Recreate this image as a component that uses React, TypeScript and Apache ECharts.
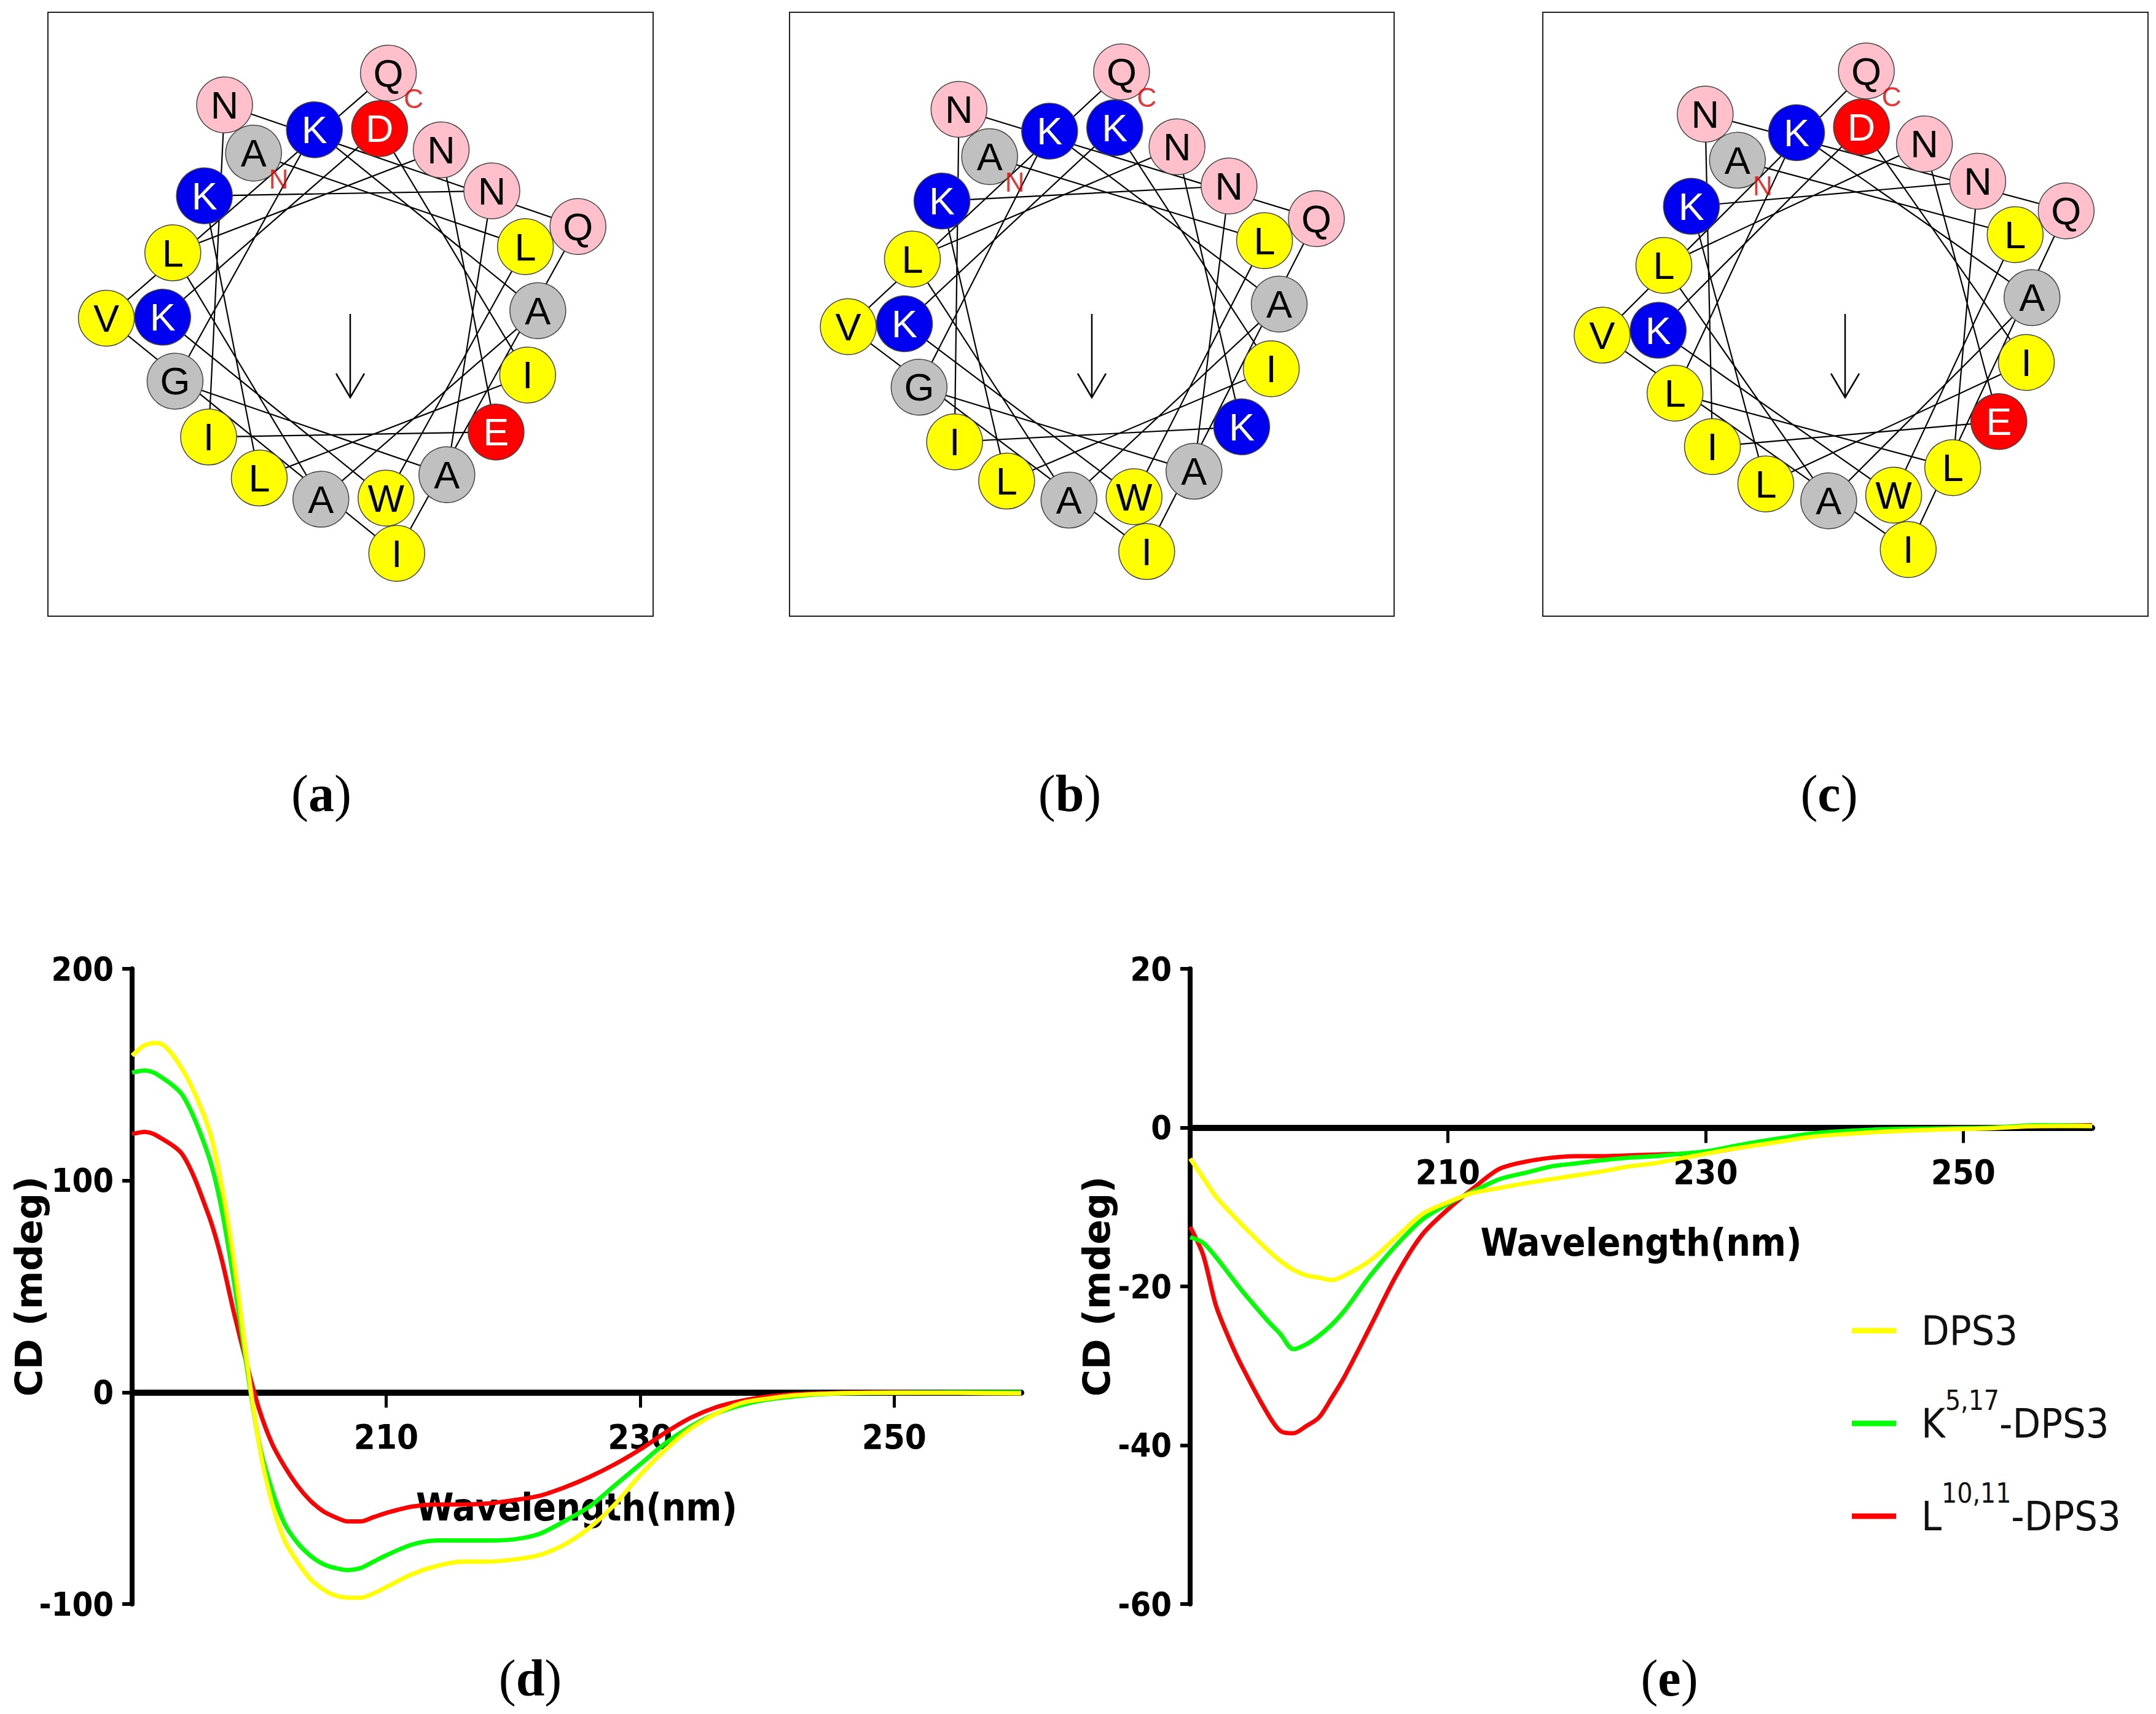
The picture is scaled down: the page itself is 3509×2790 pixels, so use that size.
import React, { useEffect, useRef } from "react";
import * as echarts from "echarts";

// ---------- helical wheel data (sequences, residue 1 -> 23) ----------
const seqDPS3 = ["A","L","W","K","D","I","L","K","N","A","G","K","A","A","L","N","E","I","N","Q","I","V","Q"];
const seqK517 = ["A","L","W","K","K","I","L","K","N","A","G","K","A","A","L","N","K","I","N","Q","I","V","Q"];
const seqL1011 = ["A","L","W","K","D","I","L","K","N","L","L","K","A","A","L","N","E","I","N","Q","I","V","Q"];
const wheelSeqs = [seqDPS3, seqK517, seqL1011];
const wheelPanelLetters = ["a", "b", "c"];

// ---------- CD spectra ----------
const seriesNames = ["DPS3", "K5,17-DPS3", "L10,11-DPS3"];

const wavelengthD = [190,191,192,194,196,197,198,199,200,201,202,203,204,205,206,207,208,209,210,212,214,216,218,220,222,224,226,228,230,232,234,236,238,240,242,244,246,250,255,260];
const dps3D = [159,164,165,152,125,99,62,16,-25,-52,-70,-80,-88,-93,-96,-97,-97,-95,-92,-86,-82,-80,-80,-79,-77,-72,-64,-53,-39,-27,-17,-10,-5,-3,-1.5,-0.8,-0.4,-0.2,-0.3,-0.5];
const k517D = [151,152,150,140,112,88,53,13,-24,-46,-62,-71,-77,-81,-83,-84,-83,-80,-77,-72,-70,-70,-70,-69.5,-67,-61,-54,-44,-34,-24,-16,-10,-6,-3.5,-2,-1,-0.5,-0.2,0,0];
const l1011D = [122,123,121,112,84,64,38,14,-8,-24,-35,-44,-51,-56,-59,-61,-61,-59,-57,-54,-53,-53,-52.5,-51,-49,-45,-40,-34,-27,-19,-12,-7,-4,-2,-1,-0.5,-0.2,0,0,0];

const wavelengthE = [190,191,192,193,194,196,197,198,199,200,201,202,204,206,208,210,212,214,216,218,220,222,224,226,228,230,232,234,236,238,240,244,248,252,256,260];
const dps3E = [-3.9,-6.3,-8.7,-10.5,-12.2,-15.4,-16.8,-17.9,-18.6,-18.9,-19.2,-18.6,-16.7,-13.8,-10.9,-9.4,-8.2,-7.6,-7.0,-6.5,-6.0,-5.5,-4.9,-4.5,-3.9,-3.3,-2.7,-2.2,-1.7,-1.2,-0.9,-0.5,-0.25,-0.1,0.2,0.2];
const k517E = [-13.8,-14.5,-16.3,-18.4,-20.5,-24.3,-26,-27.9,-27.3,-26.2,-24.8,-23,-18.6,-14.8,-11.6,-9.6,-8,-6.5,-5.7,-4.9,-4.5,-4.1,-3.8,-3.6,-3.3,-3.0,-2.4,-1.8,-1.3,-0.8,-0.5,-0.2,-0.1,0,0.3,0.2];
const l1011E = [-12.5,-16,-22.4,-26.5,-30,-36,-38.2,-38.5,-37.6,-36.5,-34,-31.3,-25,-18.6,-13.5,-10.3,-7.6,-5.2,-4.3,-3.8,-3.6,-3.6,-3.5,-3.4,-3.3,-3.2,-2.7,-2.0,-1.5,-1.1,-0.8,-0.4,-0.2,0,0.2,0.3];

const xTickValues = [210, 230, 250];

// ---------- styling / layout ----------
const COLORS = { yellow: "#FFFF00", green: "#00FF00", red: "#FF0000" };
const seriesColors = [COLORS.yellow, COLORS.green, COLORS.red];
const NARROW = "'Liberation Sans Narrow', 'Arial Narrow', 'DejaVu Sans Condensed', 'Liberation Sans', sans-serif";
const SANS = "'Liberation Sans', Arial, sans-serif";
const SERIF = "'Liberation Serif', 'Times New Roman', serif";

const residueFill = (r: string) => {
  if ("LIVWFM".includes(r)) return "#FFFF00";
  if ("AG".includes(r)) return "#C0C0C0";
  if ("NQSTY".includes(r)) return "#FFC0CB";
  if ("KR".includes(r)) return "#0000F0";
  if ("DE".includes(r)) return "#FF0000";
  return "#FFFFFF";
};
const residueText = (r: string) => ("KRDE".includes(r) ? "#FFFFFF" : "#000000");

const wheelLayout = [
  { cx: 570, cy: 511, rot: -31, box: [78, 20, 985, 983], lx: 523 },
  { cx: 1777, cy: 511, rot: -33, box: [1285, 20, 984, 983], lx: 1741 },
  { cx: 3003, cy: 511, rot: -35, box: [2511, 20, 985, 983], lx: 2977 },
];
const ANGLE_STEP = 100;
const PER_TURN = 18;
const ringOf = (i: number) => 1 + 0.3 * Math.floor(i / PER_TURN);
const angleOf = (i: number, rot: number) => (((rot + ANGLE_STEP * i) % 360) + 360) % 360;

const panelLabel = (letter: string, x: number, y: number) => ({
  type: "text", x, y, z: 10,
  style: {
    text: "({b|" + letter + "})", fontSize: 84, fontFamily: SERIF, fill: "#000",
    align: "center", verticalAlign: "middle", textAlign: "center", textVerticalAlign: "middle",
    rich: { b: { fontSize: 84, fontFamily: SERIF, fontWeight: "bold", fill: "#000" } },
  },
});

export default function App() {
  const ref = useRef<HTMLDivElement>(null);
  useEffect(() => {
    if (!ref.current) return;
    const chart = echarts.init(ref.current, undefined, { renderer: "svg" });

    const polar: any[] = [];
    const angleAxis: any[] = [];
    const radiusAxis: any[] = [];
    const series: any[] = [];
    const graphic: any[] = [];

    wheelSeqs.forEach((seq, p) => {
      const L = wheelLayout[p];
      polar.push({ center: [L.cx, L.cy], radius: 397 });
      angleAxis.push({ polarIndex: p, type: "value", min: 0, max: 360, startAngle: 90, clockwise: true, show: false });
      radiusAxis.push({ polarIndex: p, type: "value", min: 0, max: 1.3, show: false });
      const pts = seq.map((r, i) => [ringOf(i), angleOf(i, L.rot)]);
      series.push({
        type: "line", coordinateSystem: "polar", polarIndex: p, data: pts,
        symbol: "none", silent: true, z: 1,
        lineStyle: { color: "#000", width: 2.2 },
      });
      const items = seq.map((r, i) => ({
        value: pts[i], res: r, turn: Math.floor(i / PER_TURN),
        itemStyle: { color: residueFill(r) },
        label: { color: residueText(r) },
      }));
      items.sort((a, b) => b.turn - a.turn);
      series.push({
        type: "scatter", coordinateSystem: "polar", polarIndex: p, data: items,
        symbol: "circle", symbolSize: 91, z: 3, silent: true,
        itemStyle: { borderColor: "#444", borderWidth: 1.5, opacity: 1 },
        label: {
          show: true, position: "inside", fontSize: 63, fontFamily: SANS,
          formatter: (prm: any) => prm.data.res,
        },
      });
      series.push({
        type: "scatter", coordinateSystem: "polar", polarIndex: p, silent: true, z: 5,
        data: [
          { value: pts[0], t: "N" },
          { value: pts[seq.length - 1], t: "C" },
        ],
        symbolSize: 1, itemStyle: { color: "rgba(0,0,0,0)" },
        label: {
          show: true, position: "inside", offset: [41, 42], fontSize: 44, fontFamily: SANS,
          color: "#E00000", formatter: (prm: any) => prm.data.t,
        },
      });
      graphic.push({
        type: "rect", z: 0,
        shape: { x: L.box[0], y: L.box[1], width: L.box[2], height: L.box[3] },
        style: { fill: "none", stroke: "#222", lineWidth: 2 },
      });
      graphic.push({
        type: "group", z: 10, children: [
          { type: "line", shape: { x1: L.cx, y1: L.cy, x2: L.cx, y2: L.cy + 136 }, style: { stroke: "#000", lineWidth: 2.5 } },
          { type: "polyline", shape: { points: [[L.cx - 23, L.cy + 97], [L.cx, L.cy + 136], [L.cx + 23, L.cy + 97]] }, style: { stroke: "#000", lineWidth: 2.5, fill: "none" } },
        ],
      });
      graphic.push(panelLabel(wheelPanelLetters[p], L.lx, 1291));
    });

    graphic.push(panelLabel("d", 863, 2731));
    graphic.push(panelLabel("e", 2717, 2731));

    const grids = [
      { left: 215, top: 1577, width: 1447, height: 1034, outerBoundsMode: "none", containLabel: false },
      { left: 1937, top: 1577, width: 1468, height: 1034, outerBoundsMode: "none", containLabel: false },
    ];
    const yRanges = [
      { min: -100, max: 200, interval: 100, gap: 138 },
      { min: -60, max: 20, interval: 20, gap: 122 },
    ];
    const xAxis = grids.map((gr, g) => ({
      gridIndex: g, type: "value", min: 190, max: 260, position: "bottom",
      offset: -gr.height * (0 - yRanges[g].min) / (yRanges[g].max - yRanges[g].min),
      axisLine: { onZero: false, lineStyle: { color: "#000", width: 10 } },
      axisTick: { show: true, customValues: xTickValues, length: 25, lineStyle: { color: "#000", width: 5 } },
      axisLabel: {
        customValues: xTickValues, margin: 44, fontSize: 56, fontWeight: "bold",
        fontFamily: NARROW, color: "#000",
      },
      splitLine: { show: false },
      name: "Wavelength(nm)", nameLocation: "middle", nameGap: 156, nameMoveOverlap: false,
      nameTextStyle: { fontSize: 62, fontWeight: "bold", fontFamily: NARROW, color: "#000" },
    }));
    const yAxis = grids.map((_, g) => ({
      gridIndex: g, type: "value", min: yRanges[g].min, max: yRanges[g].max, interval: yRanges[g].interval,
      axisLine: { show: true, onZero: false, lineStyle: { color: "#000", width: 8 } },
      axisTick: { show: true, length: 16, lineStyle: { color: "#000", width: 6 } },
      axisLabel: { margin: 30, fontSize: 54, fontWeight: "bold", fontFamily: NARROW, color: "#000" },
      splitLine: { show: false },
      name: "CD (mdeg)", nameLocation: "middle", nameGap: yRanges[g].gap, nameMoveOverlap: false,
      nameTextStyle: { fontSize: 60, fontWeight: "bold", fontFamily: "'DejaVu Sans', Verdana, sans-serif", color: "#000" },
    }));

    const spectra = [
      { x: wavelengthD, ys: [dps3D, k517D, l1011D] },
      { x: wavelengthE, ys: [dps3E, k517E, l1011E] },
    ];
    spectra.forEach((s, g) => {
      [2, 1, 0].forEach((k) => {
        series.push({
          type: "line", name: seriesNames[k], xAxisIndex: g, yAxisIndex: g,
          data: s.x.map((w, i) => [w, s.ys[k][i]]),
          symbol: "none", smooth: 0.3, z: 4,
          itemStyle: { color: seriesColors[k] },
          lineStyle: { color: seriesColors[k], width: 7 },
        });
      });
    });

    chart.setOption({
      animation: false,
      backgroundColor: "#fff",
      polar, angleAxis, radiusAxis,
      grid: grids,
      xAxis, yAxis,
      legend: {
        data: seriesNames, orient: "vertical", left: 3009, top: 2128,
        icon: "rect", itemWidth: 72, itemHeight: 9, itemGap: 58,
        selectedMode: false,
        formatter: (name: string) => {
          const m = name.match(/^([A-Z])(\d+,\d+)-(.*)$/);
          if (!m) return "{m|" + name + "}";
          return "{m|" + m[1] + "}{s|" + m[2] + "}{m|-" + m[3] + "}";
        },
        textStyle: {
          padding: [0, 0, 0, 36],
          rich: {
            m: { fontSize: 66, fontFamily: NARROW, color: "#111", verticalAlign: "middle" },
            s: { fontSize: 44, fontFamily: NARROW, color: "#111", verticalAlign: "middle", padding: [0, 0, 76, 0] },
          },
        },
      },
      graphic,
      series,
    });
    return () => chart.dispose();
  }, []);
  return <div ref={ref} style={{ position: "absolute", left: 0, top: 0, width: 3509, height: 2790 }} />;
}
